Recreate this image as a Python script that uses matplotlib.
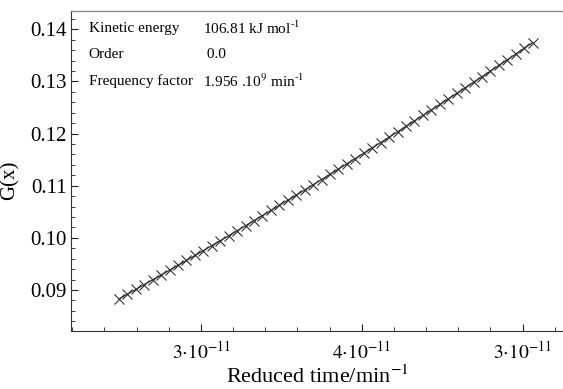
import matplotlib
matplotlib.use("Agg")
import matplotlib.pyplot as plt
from matplotlib.ticker import MultipleLocator, FixedLocator, FixedFormatter

plt.rcParams['font.family'] = ['Liberation Serif', 'DejaVu Serif']
plt.rcParams['mathtext.fontset'] = 'stix'

# reduced time, in units of 1e-11 min^-1
reduced_time = [2.49, 2.5425, 2.595, 2.6475, 2.70, 2.7525, 2.805, 2.8575, 2.91, 2.9625,
                3.015, 3.0675, 3.12, 3.1725, 3.225, 3.2775, 3.33, 3.3825, 3.435, 3.4875,
                3.54, 3.5925, 3.645, 3.6975, 3.75, 3.8025, 3.855, 3.9075, 3.96, 4.0125,
                4.065, 4.1175, 4.17, 4.2225, 4.275, 4.3275, 4.38, 4.4325, 4.485, 4.5375,
                4.59, 4.6425, 4.695, 4.7475, 4.80, 4.8525, 4.905, 4.9575, 5.01, 5.0625]
g_x = [0.08830, 0.08921, 0.09012, 0.09104, 0.09196, 0.09288, 0.09381, 0.09474, 0.09568, 0.09662,
       0.09756, 0.09851, 0.09946, 0.10041, 0.10137, 0.10234, 0.10331, 0.10428, 0.10525, 0.10623,
       0.10722, 0.10820, 0.10919, 0.11019, 0.11119, 0.11219, 0.11320, 0.11421, 0.11522, 0.11624,
       0.11727, 0.11829, 0.11932, 0.12036, 0.12140, 0.12244, 0.12349, 0.12454, 0.12559, 0.12665,
       0.12771, 0.12878, 0.12985, 0.13092, 0.13200, 0.13308, 0.13417, 0.13526, 0.13636, 0.13745]

x_tick_pos = [3e-11, 4e-11, 5e-11]
x_tick_labels = [r'$3{\cdot}10^{-11}$', r'$4{\cdot}10^{-11}$', r'$3{\cdot}10^{-11}$']

info_names = ['Kinetic energy', 'Order', 'Frequency factor']
info_values = [r'106.81 kJ mol$^{\text{-1}}$', ' 0.0',
               r'1.956 .10$^{\text{9}}$ min$^{\text{-1}}$']

fig = plt.figure(figsize=(5.63, 3.89), dpi=100)
ax = fig.add_axes([71 / 563, 58 / 389, 492 / 563, 320 / 389])

xs = [v * 1e-11 for v in reduced_time]
ax.plot(xs, g_x, '-', color='#333333', lw=0.9)
ax.plot(xs, g_x, 'x', color='#333333', ms=7.5, mew=0.8)

ax.set_xlim(2.192e-11, 5.251e-11)
ax.set_ylim(0.08214, 0.14351)

ax.xaxis.set_major_locator(FixedLocator(x_tick_pos))
ax.xaxis.set_major_formatter(FixedFormatter(x_tick_labels))
ax.xaxis.set_minor_locator(MultipleLocator(0.2e-11))
ax.yaxis.set_major_locator(MultipleLocator(0.01))
ax.yaxis.set_minor_locator(MultipleLocator(0.002))
ax.yaxis.set_major_formatter(plt.FormatStrFormatter('%.2f'))

ax.tick_params(which='both', direction='in', colors='#222222', labelcolor='black')
ax.tick_params(axis='x', which='major', length=5, width=0.8, labelsize=14, pad=7)
ax.tick_params(axis='y', which='major', length=5, width=0.8, labelsize=15, pad=3)
ax.tick_params(which='minor', length=3, width=0.6)

ax.spines['right'].set_visible(False)
ax.spines['top'].set_color('#8a8a8a')
ax.spines['top'].set_linewidth(1.0)
ax.spines['left'].set_color('#333333')
ax.spines['bottom'].set_color('#333333')

ax.set_xlabel(r'Reduced time/min$^{-1}$', fontsize=16, labelpad=2)
ax.set_ylabel('G(x)', fontsize=15)
ax.yaxis.set_label_coords(-0.105, 0.47)

for i, (name, val) in enumerate(zip(info_names, info_values)):
    y = 0.945 - i * 0.082
    ax.text(0.036, y, name, transform=ax.transAxes, fontsize=11, va='center')
    ax.text(0.268, y, val, transform=ax.transAxes, fontsize=11, va='center')

fig.savefig('out.png', dpi=100)
